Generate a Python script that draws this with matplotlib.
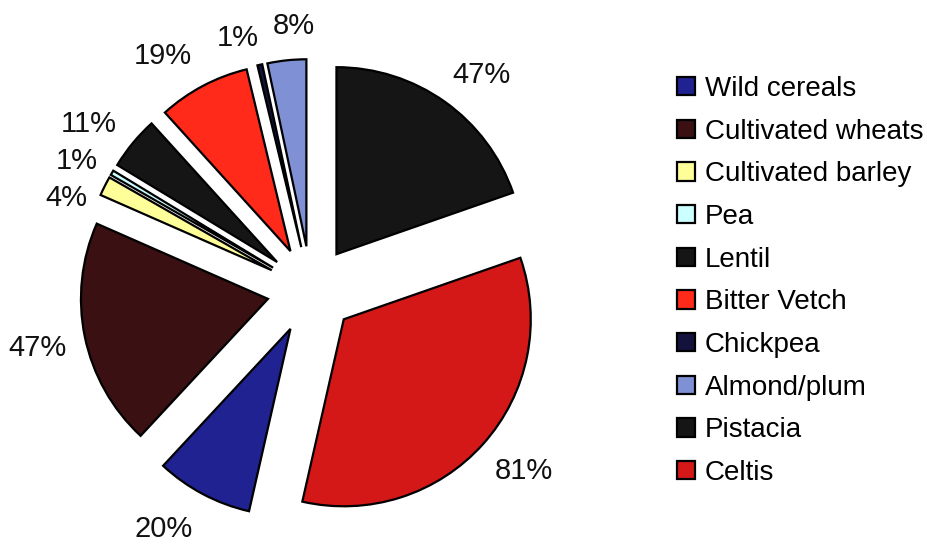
import matplotlib.pyplot as plt

plt.rcParams['font.family'] = ['Liberation Sans', 'DejaVu Sans']

categories = ["Wild cereals", "Cultivated wheats", "Cultivated barley", "Pea", "Lentil",
              "Bitter Vetch", "Chickpea", "Almond/plum", "Pistacia", "Celtis"]
values = [20, 47, 4, 1, 11, 19, 1, 8, 47, 81]
labels = [f"{v}%" for v in values]
colors = ["#1f2290", "#3a1012", "#ffff99", "#ccffff", "#151515",
          "#ff2a1a", "#12123c", "#8090d4", "#151515", "#d41818"]
# label spots (pie radius = 1), placed like Excel's best fit
label_pos = [(-0.79, -1.28), (-1.46, -0.31), (-1.31, 0.49), (-1.25, 0.69), (-1.19, 0.89),
             (-0.79, 1.25), (-0.39, 1.35), (-0.09, 1.41), (0.91, 1.15), (1.14, -0.97)]

fig = plt.figure(figsize=(9.28, 5.45), dpi=100)
W, H = 928, 545
R = 187          # pie radius in pixels
cx, cy = 311, 290  # pie centre in pixels (from top)
half = 1.6
ax = fig.add_axes([(cx - half * R) / W, (H - cy - half * R) / H, 2 * half * R / W, 2 * half * R / H])

# Excel starts the first slice after Pistacia + Celtis (clockwise from 12 o'clock)
first_angle = sum(values[8:]) / sum(values) * 360
wedges, texts = ax.pie(values, labels=labels, colors=colors, explode=[0.235] * len(values),
                       startangle=90 - first_angle, counterclock=False, labeldistance=1.22,
                       wedgeprops=dict(edgecolor="black", linewidth=1.6),
                       textprops=dict(fontsize=21, color="#111111"))
for t, p in zip(texts, label_pos):
    t.set_position(p)
    t.set_horizontalalignment("center")
    t.set_verticalalignment("center")
ax.set_xlim(-half, half)
ax.set_ylim(-half, half)
ax.set_aspect("equal")
ax.axis("off")

leg = fig.legend(wedges, categories, loc="upper left", bbox_to_anchor=(663 / W, 1 - 62 / H),
                 frameon=False, fontsize=20, handlelength=0.65, handleheight=0.65,
                 handletextpad=0.36, labelspacing=0.6, borderpad=0)

fig.savefig("out.png", dpi=100, facecolor="white")
